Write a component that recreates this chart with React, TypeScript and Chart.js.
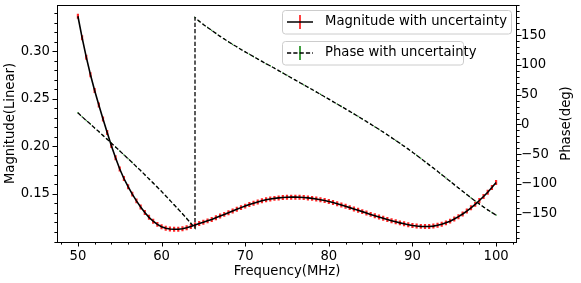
import React, { useEffect, useRef } from 'react';
import { Chart, registerables } from 'chart.js';

Chart.register(...registerables);

// ---------------- data ----------------
const freqs = [
  50, 50.5, 51, 51.5, 52, 52.5, 53, 53.5, 54, 54.5,
  55, 55.5, 56, 56.5, 57, 57.5, 58, 58.5, 59, 59.5,
  60, 60.5, 61, 61.5, 62, 62.5, 63, 63.5, 64, 64.5,
  65, 65.5, 66, 66.5, 67, 67.5, 68, 68.5, 69, 69.5,
  70, 70.5, 71, 71.5, 72, 72.5, 73, 73.5, 74, 74.5,
  75, 75.5, 76, 76.5, 77, 77.5, 78, 78.5, 79, 79.5,
  80, 80.5, 81, 81.5, 82, 82.5, 83, 83.5, 84, 84.5,
  85, 85.5, 86, 86.5, 87, 87.5, 88, 88.5, 89, 89.5,
  90, 90.5, 91, 91.5, 92, 92.5, 93, 93.5, 94, 94.5,
  95, 95.5, 96, 96.5, 97, 97.5, 98, 98.5, 99, 99.5,
  100,
];

const magnitude = [
  0.3366, 0.3141, 0.2936, 0.2751, 0.2586, 0.2433, 0.2286, 0.2144, 0.2007, 0.1879,
  0.1762, 0.1662, 0.1576, 0.1498, 0.1427, 0.1362, 0.1304, 0.1254, 0.1213, 0.1180,
  0.1155, 0.1140, 0.1132, 0.1129, 0.1129, 0.1134, 0.1144, 0.1158, 0.1174, 0.1189,
  0.1203, 0.1217, 0.1232, 0.1249, 0.1267, 0.1285, 0.1303, 0.1321, 0.1339, 0.1356,
  0.1372, 0.1388, 0.1403, 0.1416, 0.1428, 0.1438, 0.1446, 0.1453, 0.1458, 0.1462,
  0.1465, 0.1466, 0.1466, 0.1465, 0.1462, 0.1458, 0.1453, 0.1447, 0.1439, 0.1430,
  0.1420, 0.1409, 0.1397, 0.1384, 0.1370, 0.1356, 0.1342, 0.1328, 0.1314, 0.1300,
  0.1285, 0.1271, 0.1257, 0.1244, 0.1231, 0.1219, 0.1207, 0.1196, 0.1186, 0.1177,
  0.1169, 0.1163, 0.1159, 0.1157, 0.1158, 0.1162, 0.1170, 0.1181, 0.1196, 0.1214,
  0.1236, 0.1261, 0.1289, 0.1320, 0.1354, 0.1391, 0.1431, 0.1473, 0.1518, 0.1567,
  0.1620,
];

// phase has a wrap at 64 MHz, so 64 appears twice
const phaseFreqs = [
  50, 50.5, 51, 51.5, 52, 52.5, 53, 53.5, 54, 54.5,
  55, 55.5, 56, 56.5, 57, 57.5, 58, 58.5, 59, 59.5,
  60, 60.5, 61, 61.5, 62, 62.5, 63, 63.5, 64, 64, 64.5,
  65, 65.5, 66, 66.5, 67, 67.5, 68, 68.5, 69, 69.5,
  70, 70.5, 71, 71.5, 72, 72.5, 73, 73.5, 74, 74.5,
  75, 75.5, 76, 76.5, 77, 77.5, 78, 78.5, 79, 79.5,
  80, 80.5, 81, 81.5, 82, 82.5, 83, 83.5, 84, 84.5,
  85, 85.5, 86, 86.5, 87, 87.5, 88, 88.5, 89, 89.5,
  90, 90.5, 91, 91.5, 92, 92.5, 93, 93.5, 94, 94.5,
  95, 95.5, 96, 96.5, 97, 97.5, 98, 98.5, 99, 99.5,
  100,
];

const phase = [
  19.5, 13, 6.5, 0.5, -6, -12, -18.5, -25, -31.5, -38,
  -44.5, -51, -57.5, -64, -71, -77.5, -84.5, -91.5, -98.5, -105.5,
  -112.5, -120, -127.5, -135, -142.5, -150, -158, -166, -174, 179.5, 173.5,
  168, 163, 158, 153, 148, 143.5, 139, 134.5, 130.5, 126,
  122, 118, 114, 110, 106, 102, 98.5, 94.5, 90.5, 86.5,
  82.5, 78.5, 74.5, 70.5, 66.6, 62.6, 58.7, 54.7, 50.6, 46.6,
  42.5, 38.4, 34.3, 30.2, 26.1, 21.9, 17.7, 13.5, 9.2, 4.9,
  0.5, -3.9, -8.3, -12.8, -17.4, -22.1, -26.8, -31.6, -36.5, -41.5,
  -46.6, -51.8, -57.1, -62.5, -67.9, -73.3, -78.8, -84.3, -89.9, -95.5,
  -101.1, -106.7, -112.3, -117.8, -123.2, -128.5, -133.7, -138.7, -143.5, -148,
  -152.3,
];

const MAG_UNCERTAINTY = 0.0026;
const PHASE_UNCERTAINTY = 1.2;

const xTicks = [50, 60, 70, 80, 90, 100];
const magTicks = [0.15, 0.2, 0.25, 0.3];
const phaseTicks = [-150, -100, -50, 0, 50, 100, 150];

const X_LIMITS = [47.5, 102.5];
const MAG_LIMITS = [0.0995, 0.3484];
const PHASE_LIMITS = [-197.5, 200.7];

const MAG_LABEL = 'Magnitude with uncertainty';
const PHASE_LABEL = 'Phase with uncertainty';

// ---------------- styling ----------------
const FONT = 'DejaVu Sans';
const FS = 13.2;
const RED = '#ff0000';
const GREEN = '#008000';
const DASH = [4.2, 2.1];

function minorValues(min: number, max: number, step: number, majors: number[]) {
  const out: number[] = [];
  const start = Math.ceil(min / step - 1e-9);
  const end = Math.floor(max / step + 1e-9);
  for (let k = start; k <= end; k++) {
    const v = k * step;
    if (!majors.some((m) => Math.abs(m - v) < step * 1e-3)) out.push(v);
  }
  return out;
}

const decor = {
  id: 'decor',
  beforeDatasetDraw(chart: any, args: any) {
    const ctx = chart.ctx;
    const ca = chart.chartArea;
    const xs = chart.scales.x;
    ctx.save();
    ctx.beginPath();
    ctx.rect(ca.left, ca.top, ca.right - ca.left, ca.bottom - ca.top);
    ctx.clip();
    ctx.beginPath();
    if (args.index === 1) {
      const ys = chart.scales.yMag;
      ctx.strokeStyle = 'rgba(255,0,0,0.85)';
      ctx.lineWidth = 2.2;
      freqs.forEach((f, i) => {
        const px = xs.getPixelForValue(f);
        ctx.moveTo(px, ys.getPixelForValue(magnitude[i] - MAG_UNCERTAINTY));
        ctx.lineTo(px, ys.getPixelForValue(magnitude[i] + MAG_UNCERTAINTY));
      });
    } else {
      const ys = chart.scales.yPhase;
      ctx.strokeStyle = GREEN;
      ctx.lineWidth = 1;
      phaseFreqs.forEach((f, i) => {
        const px = xs.getPixelForValue(f);
        ctx.moveTo(px, ys.getPixelForValue(phase[i] - PHASE_UNCERTAINTY));
        ctx.lineTo(px, ys.getPixelForValue(phase[i] + PHASE_UNCERTAINTY));
      });
    }
    ctx.stroke();
    ctx.restore();
  },
  afterDraw(chart: any) {
    const ctx = chart.ctx;
    const ca = chart.chartArea;
    const xs = chart.scales.x;
    const ym = chart.scales.yMag;
    const yp = chart.scales.yPhase;
    ctx.save();
    // frame
    ctx.strokeStyle = '#000';
    ctx.lineWidth = 1;
    ctx.strokeRect(ca.left + 0.5, ca.top + 0.5, ca.right - ca.left - 1, ca.bottom - ca.top);

    const MAJ = 4.5;
    const MIN = 2.6;
    ctx.beginPath();
    xTicks.forEach((v) => {
      const p = Math.round(xs.getPixelForValue(v)) + 0.5;
      ctx.moveTo(p, ca.bottom); ctx.lineTo(p, ca.bottom + MAJ);
    });
    minorValues(X_LIMITS[0], X_LIMITS[1], 2, xTicks).forEach((v) => {
      const p = Math.round(xs.getPixelForValue(v)) + 0.5;
      ctx.moveTo(p, ca.bottom); ctx.lineTo(p, ca.bottom + MIN);
    });
    magTicks.forEach((v) => {
      const p = Math.round(ym.getPixelForValue(v)) + 0.5;
      ctx.moveTo(ca.left, p); ctx.lineTo(ca.left - MAJ, p);
    });
    minorValues(MAG_LIMITS[0], MAG_LIMITS[1], 0.01, magTicks).forEach((v) => {
      const p = Math.round(ym.getPixelForValue(v)) + 0.5;
      ctx.moveTo(ca.left, p); ctx.lineTo(ca.left - MIN, p);
    });
    phaseTicks.forEach((v) => {
      const p = Math.round(yp.getPixelForValue(v)) + 0.5;
      ctx.moveTo(ca.right, p); ctx.lineTo(ca.right + MAJ, p);
    });
    minorValues(PHASE_LIMITS[0], PHASE_LIMITS[1], 10, phaseTicks).forEach((v) => {
      const p = Math.round(yp.getPixelForValue(v)) + 0.5;
      ctx.moveTo(ca.right, p); ctx.lineTo(ca.right + MIN, p);
    });
    ctx.stroke();

    // right axis title (reads bottom-to-top)
    ctx.save();
    ctx.translate(567, (ca.top + ca.bottom) / 2);
    ctx.rotate(-Math.PI / 2);
    ctx.fillStyle = '#000';
    ctx.font = `${FS}px "${FONT}"`;
    ctx.textAlign = 'center';
    ctx.textBaseline = 'middle';
    ctx.fillText('Phase(deg)', 0, 0);
    ctx.restore();

    // legends
    const drawBox = (x: number, y: number, w: number, h: number) => {
      const r = 3;
      ctx.beginPath();
      ctx.moveTo(x + r, y);
      ctx.lineTo(x + w - r, y);
      ctx.arcTo(x + w, y, x + w, y + r, r);
      ctx.lineTo(x + w, y + h - r);
      ctx.arcTo(x + w, y + h, x + w - r, y + h, r);
      ctx.lineTo(x + r, y + h);
      ctx.arcTo(x, y + h, x, y + h - r, r);
      ctx.lineTo(x, y + r);
      ctx.arcTo(x, y, x + r, y, r);
      ctx.closePath();
      ctx.fillStyle = 'rgba(255,255,255,0.8)';
      ctx.fill();
      ctx.strokeStyle = '#cccccc';
      ctx.lineWidth = 1;
      ctx.stroke();
    };
    const legends = [
      { y: 10.5, w: 229, label: MAG_LABEL, color: RED, dash: [] as number[] },
      { y: 41.5, w: 181, label: PHASE_LABEL, color: GREEN, dash: DASH },
    ];
    legends.forEach((lg) => {
      const bx = 282.5;
      drawBox(bx, lg.y, lg.w, 23.5);
      const cy = lg.y + 11.5;
      ctx.beginPath();
      ctx.strokeStyle = lg.color;
      ctx.lineWidth = 1.5;
      ctx.moveTo(300, cy - 7);
      ctx.lineTo(300, cy + 7);
      ctx.stroke();
      ctx.beginPath();
      ctx.setLineDash(lg.dash);
      ctx.strokeStyle = '#000';
      ctx.lineWidth = lg.dash.length ? 1.3 : 1.5;
      ctx.moveTo(287, cy);
      ctx.lineTo(313, cy);
      ctx.stroke();
      ctx.setLineDash([]);
      ctx.fillStyle = '#000';
      ctx.font = `${FS}px "${FONT}"`;
      ctx.textAlign = 'left';
      ctx.textBaseline = 'middle';
      ctx.fillText(lg.label, 325, cy);
    });
    ctx.restore();
  },
};

const fmtMinus = (v: number) => (v < 0 ? '\u2212' + Math.abs(v) : String(v));

export default function App() {
  const ref = useRef<HTMLCanvasElement>(null);
  useEffect(() => {
    if (!ref.current) return;
    const font = { family: FONT, size: FS };
    const hiddenGrid = { display: true, drawOnChartArea: false, drawTicks: false, color: 'rgba(0,0,0,0)' };
    const chart = new Chart(ref.current, {
      type: 'line',
      data: {
        datasets: [
          {
            label: PHASE_LABEL,
            data: phaseFreqs.map((f, i) => ({ x: f, y: phase[i] })),
            yAxisID: 'yPhase',
            borderColor: '#000',
            borderWidth: 1.3,
            borderDash: DASH,
            pointRadius: 0,
            fill: false,
            tension: 0,
          },
          {
            label: MAG_LABEL,
            data: freqs.map((f, i) => ({ x: f, y: magnitude[i] })),
            yAxisID: 'yMag',
            borderColor: '#000',
            borderWidth: 1.6,
            pointRadius: 0,
            fill: false,
            tension: 0,
          },
        ],
      },
      options: {
        animation: false,
        responsive: false,
        devicePixelRatio: 1,
        layout: { padding: { top: 5, left: 0, right: 0, bottom: 0 } },
        plugins: { legend: { display: false }, tooltip: { enabled: false } },
        scales: {
          x: {
            type: 'linear',
            position: 'bottom',
            min: X_LIMITS[0],
            max: X_LIMITS[1],
            afterBuildTicks: (s: any) => { s.ticks = xTicks.map((v) => ({ value: v })); },
            afterFit: (s: any) => { s.height = 41; s.paddingLeft = 0; s.paddingRight = 0; s.paddingTop = 0; s.paddingBottom = 0; },
            grid: hiddenGrid,
            border: { display: false },
            ticks: { color: '#000', font, padding: 6.5, maxRotation: 0, autoSkip: false, callback: (v: any) => String(v) },
            title: { display: true, text: 'Frequency(MHz)', color: '#000', font, padding: { top: 0, bottom: 4 } },
          },
          yMag: {
            type: 'linear',
            position: 'left',
            min: MAG_LIMITS[0],
            max: MAG_LIMITS[1],
            afterBuildTicks: (s: any) => { s.ticks = magTicks.map((v) => ({ value: v })); },
            afterFit: (s: any) => { s.width = 57; s.paddingTop = 0; s.paddingBottom = 0; s.paddingLeft = 0; s.paddingRight = 0; },
            grid: hiddenGrid,
            border: { display: false },
            ticks: { color: '#000', font, padding: 7, autoSkip: false, callback: (v: any) => Number(v).toFixed(2) },
            title: { display: true, text: 'Magnitude(Linear)', color: '#000', font, padding: { top: 3, bottom: 0 } },
          },
          yPhase: {
            type: 'linear',
            position: 'right',
            min: PHASE_LIMITS[0],
            max: PHASE_LIMITS[1],
            afterBuildTicks: (s: any) => { s.ticks = phaseTicks.map((v) => ({ value: v })); },
            afterFit: (s: any) => { s.width = 64; s.paddingTop = 0; s.paddingBottom = 0; s.paddingLeft = 0; s.paddingRight = 0; },
            grid: hiddenGrid,
            border: { display: false },
            ticks: { color: '#000', font, padding: 4, autoSkip: false, callback: (v: any) => fmtMinus(Number(v)) },
            title: { display: false },
          },
        },
      } as any,
      plugins: [decor as any],
    });
    return () => chart.destroy();
  }, []);
  return (
    <div style={{ position: 'absolute', left: 0, top: 0, width: 581, height: 283, background: '#fff' }}>
      <canvas ref={ref} width={581} height={283} style={{ display: 'block', width: 581, height: 283 }} />
    </div>
  );
}
